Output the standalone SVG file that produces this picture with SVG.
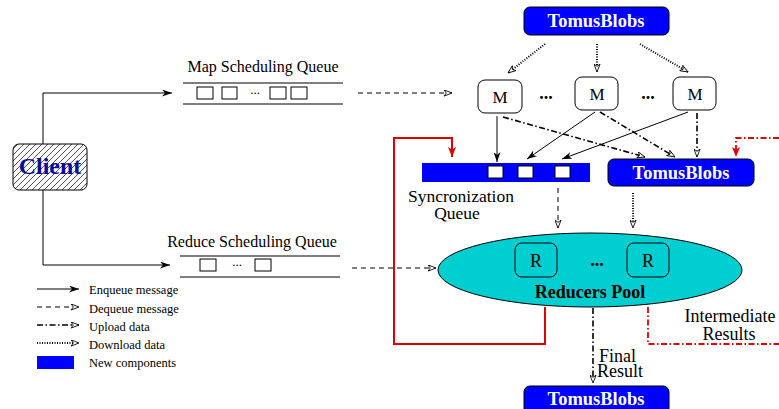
<svg xmlns="http://www.w3.org/2000/svg" width="779" height="409" viewBox="0 0 779 409">
<defs>
<style>
.t{font-family:"Liberation Serif","Times New Roman",serif;fill:#000}
.b{font-weight:bold}
.w{fill:#fff;font-weight:bold;font-size:18.5px}
.ln{fill:none;stroke:#000;stroke-width:1}
.sol{marker-end:url(#ah)}
.dash{stroke-dasharray:5,4;marker-end:url(#ao)}
.dd{stroke-width:1.6;stroke-dasharray:6,2.5,1.5,2.5;marker-end:url(#ao)}
.dot{stroke-width:2;stroke-dasharray:1,1.5;marker-end:url(#ao)}
.blue{fill:#0000ff;stroke:#000;stroke-width:1}
.box{fill:#fff;stroke:#000;stroke-width:1}
.rbox{fill:none;stroke:#000;stroke-width:1}
.red{fill:none;stroke:#e00000;stroke-width:2}
.reddd{fill:none;stroke:#e00000;stroke-width:1.8;stroke-dasharray:6,2.5,1.5,2.5}
</style>
<marker id="ah" viewBox="0 0 10 7" refX="10" refY="3.5" markerWidth="10" markerHeight="7" markerUnits="userSpaceOnUse" orient="auto">
<path d="M0,0 L10,3.5 L0,7 L3,3.5 z" fill="#000"/>
</marker>
<marker id="ao" viewBox="0 0 10 8" refX="9.5" refY="4" markerWidth="9" markerHeight="7" markerUnits="userSpaceOnUse" orient="auto">
<path d="M0.5,0.5 L9.5,4 L0.5,7.5 L3,4 z" fill="#fff" stroke="#000" stroke-width="1" stroke-dasharray="none"/>
</marker>
<marker id="ar" viewBox="0 0 10 10" refX="10" refY="5" markerWidth="10" markerHeight="10" markerUnits="userSpaceOnUse" orient="auto">
<path d="M0,1 L10,5 L0,9 L2.5,5 z" fill="#e00000"/>
</marker>
<pattern id="hatch" patternUnits="userSpaceOnUse" width="6" height="6">
<path d="M-1,7 L7,-1 M-1,1 L1,-1 M5,7 L7,5" stroke="#000" stroke-width="0.7"/>
</pattern>
</defs>

<g id="connectors">
<polyline class="ln sol" points="43,144 43,93 172,93"/>
<polyline class="ln sol" points="43,190 43,265 170,265"/>
<line class="ln dash" x1="358" y1="93" x2="452" y2="93"/>
<line class="ln dash" x1="352" y1="268" x2="436" y2="268"/>
<line class="ln dot" x1="545" y1="44" x2="508" y2="73"/>
<line class="ln dot" x1="597" y1="44" x2="597" y2="72"/>
<line class="ln dot" x1="640" y1="44" x2="688" y2="72"/>
<line class="ln sol" x1="497" y1="116" x2="497" y2="162"/>
<line class="ln sol" x1="595" y1="112" x2="527" y2="159"/>
<line class="ln sol" x1="688" y1="112" x2="562" y2="159"/>
<line class="ln dd" x1="503" y1="117" x2="645" y2="157"/>
<line class="ln dd" x1="600" y1="112" x2="675" y2="157"/>
<line class="ln dd" x1="697" y1="113" x2="697" y2="157"/>
<line class="ln dash" x1="558" y1="188" x2="558" y2="228"/>
<line class="ln dot" x1="633" y1="193" x2="633" y2="228"/>
<line class="ln dd" x1="593" y1="308" x2="593" y2="383"/>
<polyline class="red" points="545,307 545,344 394,344 394,138 452,138 452,157" marker-end="url(#ar)"/>
<polyline class="reddd" points="648,307 648,344 779,344"/>
<polyline class="reddd" points="779,138 736,138 736,157" marker-end="url(#ar)"/>
</g>

<g id="client">
<rect x="13" y="144" width="74" height="46" rx="6" fill="url(#hatch)" stroke="#000" stroke-width="1"/>
<text class="t b" x="50" y="174" font-size="24" text-anchor="middle" style="fill:#0a0a9a">Client</text>
</g>

<g id="map-queue">
<text class="t" x="263" y="72" font-size="16" text-anchor="middle">Map Scheduling Queue</text>
<line class="ln" x1="183" y1="83" x2="343" y2="83"/>
<line class="ln" x1="183" y1="104" x2="343" y2="104"/>
<rect class="box" x="197" y="87" width="16" height="12"/>
<rect class="box" x="222" y="87" width="15" height="12"/>
<text class="t" x="255" y="94" font-size="13" text-anchor="middle">...</text>
<rect class="box" x="270" y="87" width="16" height="12"/>
<rect class="box" x="291" y="87" width="16" height="12"/>
</g>

<g id="reduce-queue">
<text class="t" x="252" y="247" font-size="16" text-anchor="middle">Reduce Scheduling Queue</text>
<line class="ln" x1="180" y1="256" x2="340" y2="256"/>
<line class="ln" x1="180" y1="277" x2="340" y2="277"/>
<rect class="box" x="200" y="259" width="16" height="12"/>
<text class="t" x="237" y="266" font-size="13" text-anchor="middle">...</text>
<rect class="box" x="255" y="259" width="16" height="12"/>
</g>

<g id="tomusblobs-top">
<rect class="blue" x="524" y="7" width="145" height="28" rx="6"/>
<text class="t w" x="596" y="27" text-anchor="middle">TomusBlobs</text>
</g>

<g id="mapper-1">
<rect class="box" x="478" y="80" width="44" height="33" rx="7"/>
<text class="t" x="500" y="103" font-size="17" text-anchor="middle">M</text>
</g>
<text class="t" x="546" y="99" font-size="18" font-weight="bold" text-anchor="middle">...</text>
<g id="mapper-2">
<rect class="box" x="575" y="77" width="43" height="33" rx="7"/>
<text class="t" x="597" y="100" font-size="17" text-anchor="middle">M</text>
</g>
<text class="t" x="648" y="99" font-size="18" font-weight="bold" text-anchor="middle">...</text>
<g id="mapper-3">
<rect class="box" x="673" y="77" width="43" height="33" rx="7"/>
<text class="t" x="695" y="100" font-size="17" text-anchor="middle">M</text>
</g>

<g id="sync-queue">
<rect x="422" y="163" width="168" height="19" fill="#0000ff"/>
<rect class="box" x="488" y="166" width="15" height="12"/>
<rect class="box" x="518" y="166" width="15" height="12"/>
<rect class="box" x="555" y="166" width="15" height="12"/>
<text class="t" x="461" y="202" font-size="17.5" text-anchor="middle">Syncronization</text>
<text class="t" x="457" y="219" font-size="17.5" text-anchor="middle">Queue</text>
</g>

<g id="tomusblobs-mid">
<rect class="blue" x="608" y="159" width="146" height="27" rx="6"/>
<text class="t w" x="681" y="179" text-anchor="middle">TomusBlobs</text>
</g>

<g id="reducers-pool">
<ellipse cx="590" cy="270" rx="152" ry="37" fill="#00ced1" stroke="#000" stroke-width="1"/>
<rect class="rbox" x="515" y="243" width="42" height="34" rx="7"/>
<text class="t" x="536" y="267" font-size="18" text-anchor="middle">R</text>
<text class="t" x="597" y="266" font-size="18" font-weight="bold" text-anchor="middle">...</text>
<rect class="rbox" x="627" y="243" width="42" height="34" rx="7"/>
<text class="t" x="648" y="267" font-size="18" text-anchor="middle">R</text>
<text class="t b" x="590" y="298" font-size="18" text-anchor="middle">Reducers Pool</text>
</g>

<g id="labels">
<text class="t" x="730" y="322" font-size="18" text-anchor="middle">Intermediate</text>
<text class="t" x="729" y="340" font-size="18" text-anchor="middle">Results</text>
<text class="t" x="599" y="362" font-size="18">Final</text>
<text class="t" x="597" y="377" font-size="18">Result</text>
</g>

<g id="tomusblobs-bottom">
<rect class="blue" x="524" y="386" width="145" height="30" rx="6"/>
<text class="t w" x="596" y="405" text-anchor="middle">TomusBlobs</text>
</g>

<g id="legend">
<line class="ln sol" x1="37" y1="289" x2="79" y2="289"/>
<text class="t" x="89" y="294" font-size="12.5">Enqueue message</text>
<line class="ln dash" x1="37" y1="307" x2="79" y2="307"/>
<text class="t" x="89" y="313" font-size="12.5">Dequeue message</text>
<line class="ln dd" x1="37" y1="325" x2="79" y2="325"/>
<text class="t" x="89" y="331" font-size="12.5">Upload data</text>
<line class="ln dot" x1="37" y1="343" x2="79" y2="343"/>
<text class="t" x="89" y="349" font-size="12.5">Download data</text>
<rect x="37" y="356" width="37" height="13" fill="#0000ff"/>
<text class="t" x="89" y="367" font-size="12.5">New components</text>
</g>
</svg>
